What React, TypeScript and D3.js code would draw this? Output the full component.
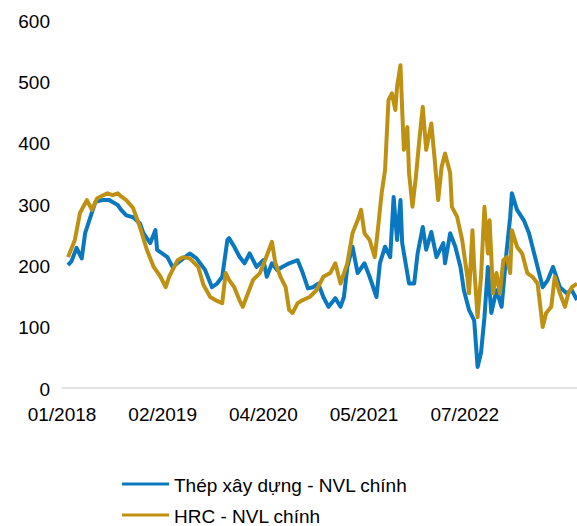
import React from "react";
import * as d3 from "d3";

// Weeks since 01/2018 and index values (Thép xây dựng - NVL chính)
const steelWeeks = [0,2,5,8,10,13,16,20,24,29,31,34,38,42,44,48,51,52,58,61,66,71,75,80,84,87,90,93,94,97,100,103,106,110,114,116,119,122,125,129,134,137,140,143,146,149,152,156,159,161,163,166,169,173,176,180,182,185,188,190,192,194,195,199,202,204,207,209,212,215,219,220,223,226,229,231,234,237,239,241,243,245,247,250,253,256,258,259,262,266,269,273,277,280,283,287,291,294,297];
const steelValues = [202,208,230,213,254,280,305,308,308,300,292,283,280,270,254,238,259,227,215,199,210,221,213,194,166,172,183,243,246,232,216,205,221,199,210,183,205,194,199,205,210,189,164,166,172,150,134,148,134,150,199,232,189,205,183,150,205,232,215,313,243,308,238,172,172,221,264,227,256,215,238,205,254,232,199,161,129,112,36,59,117,199,124,161,134,227,280,319,292,275,254,210,166,178,199,166,156,161,145];

// Weeks since 01/2018 and index values (HRC - NVL chính)
const hrcWeeks = [0,4,7,11,14,17,20,23,26,29,31,34,38,42,46,50,54,57,59,64,67,71,76,79,83,86,90,92,94,97,100,102,105,108,112,115,119,121,124,127,129,131,134,137,141,145,149,153,156,159,163,166,169,171,173,176,179,181,183,185,187,189,191,192,194,195,196,198,199,201,203,205,207,209,212,214,216,218,220,223,224,227,230,233,234,236,237,239,241,243,245,246,248,250,252,254,256,258,259,262,265,268,271,274,277,279,282,284,287,290,292,294,297];
const hrcValues = [215,243,287,308,292,311,315,319,316,319,314,308,295,264,227,199,183,166,183,210,215,213,199,170,150,145,140,189,178,166,145,134,156,178,189,210,240,205,183,166,129,124,140,145,150,161,183,189,205,172,205,254,275,292,254,243,215,265,319,357,471,482,455,493,528,455,390,427,352,297,346,406,460,390,433,373,308,362,384,352,297,281,243,183,156,259,199,117,183,297,221,275,156,189,156,210,215,189,259,232,221,189,183,172,101,124,134,183,156,134,156,166,172];

const xTickWeeks = [0, 58.75, 117.5, 176.25, 235];
const xTickLabels = ["01/2018", "02/2019", "04/2020", "05/2021", "07/2022"];
const yTicks = [0, 100, 200, 300, 400, 500, 600];

const seriesNames = ["Thép xây dựng - NVL chính", "HRC - NVL chính"];
const seriesColors = ["#0a78bf", "#bf9112"];

const W = 577;
const H = 526;
const FONT = "Liberation Sans, Arial, sans-serif";

export default function App() {
  const x = d3.scaleLinear().domain([0, 297]).range([68, 577]);
  const y = d3.scaleLinear().domain([0, 600]).range([389, 21]);

  const steel = steelWeeks.map((w, i) => [w, steelValues[i]] as [number, number]);
  const hrc = hrcWeeks.map((w, i) => [w, hrcValues[i]] as [number, number]);

  const line = d3
    .line<[number, number]>()
    .x((d) => x(d[0]))
    .y((d) => y(d[1]))
    .curve(d3.curveLinear);

  return (
    <svg
      width={W}
      height={H}
      style={{ position: "absolute", left: 0, top: 0, background: "#fff" }}
      fontFamily={FONT}
    >
      <defs>
        <clipPath id="plot">
          <rect x={0} y={0} width={W} height={400} />
        </clipPath>
      </defs>
      {yTicks.map((t) => (
        <text
          key={t}
          x={50}
          y={y(t)}
          textAnchor="end"
          dominantBaseline="central"
          fontSize={19}
          fill="#000"
        >
          {t}
        </text>
      ))}
      <line x1={62} x2={577} y1={y(0) - 1} y2={y(0) - 1} stroke="#d9d9d9" strokeWidth={1.5} />
      {xTickWeeks.map((w, i) => (
        <text
          key={w}
          x={x(w) - 6}
          y={414}
          textAnchor="middle"
          dominantBaseline="central"
          fontSize={19}
          fill="#000"
        >
          {xTickLabels[i]}
        </text>
      ))}
      <g clipPath="url(#plot)">
        <path d={line(steel) || ""} fill="none" stroke={seriesColors[0]} strokeWidth={4} strokeLinejoin="round" />
        <path d={line(hrc) || ""} fill="none" stroke={seriesColors[1]} strokeWidth={4} strokeLinejoin="round" />
      </g>
      {seriesNames.map((name, i) => (
        <g key={name} transform={`translate(0, ${484 + i * 31})`}>
          <line x1={122} x2={169} y1={0} y2={0} stroke={seriesColors[i]} strokeWidth={3} />
          <text x={174} y={1} dominantBaseline="central" fontSize={19} fill="#000">
            {name}
          </text>
        </g>
      ))}
    </svg>
  );
}
